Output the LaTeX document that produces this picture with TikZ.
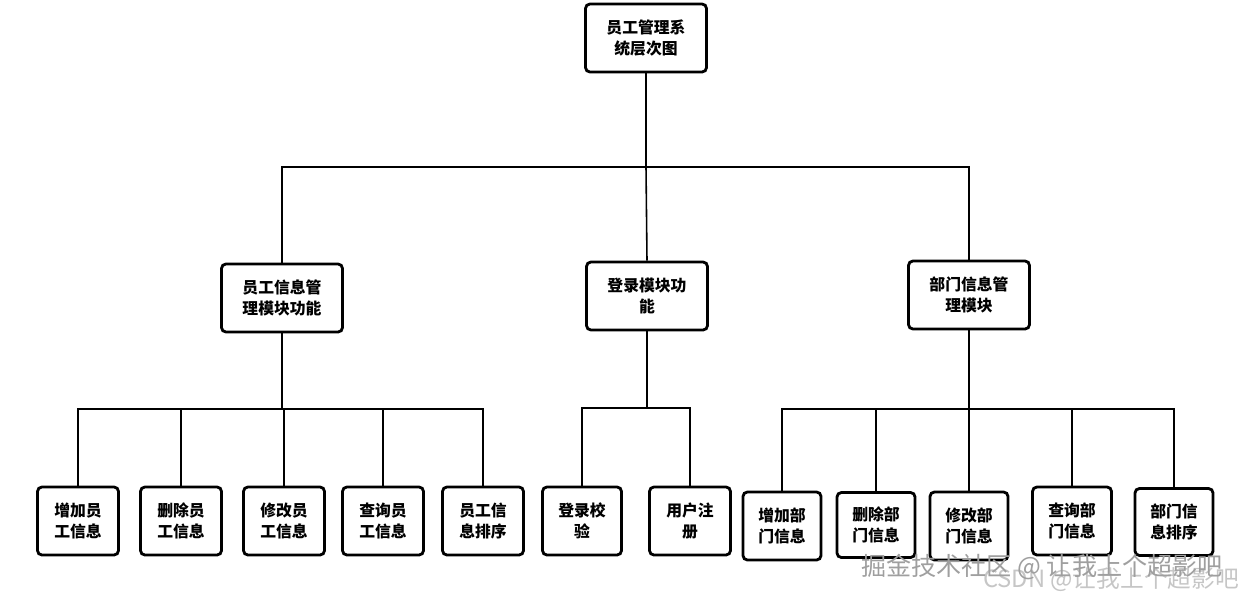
\documentclass[tikz,border=0pt]{standalone}
\usepackage{fontspec}
\newfontfamily\cjk{Noto Sans CJK SC}
\usetikzlibrary{positioning}
\tikzset{
    boxnode/.style = {draw=black, line width=1.6pt, rounded corners=2.5pt, align=center, inner sep=0pt, text centered, font=\cjk\bfseries\fontsize{9}{12}\selectfont},
    module_node/.style = {boxnode, minimum width=2.42cm, minimum height=1.36cm},
    leaf_node/.style = {boxnode, minimum width=1.62cm, minimum height=1.36cm},
    link/.style = {line width=0.9pt},
    mark_text/.style = {inner sep=0pt, font=\cjk}
}
\begin{document}
\begin{tikzpicture}[x=0.02cm, y=-0.02cm]
    \useasboundingbox (0,0) rectangle (1241,599);
    \node [module_node] (root) at (646,38) {员工管理系\\统层次图};
    \node [module_node] (emp) at (282,298) {员工信息管\\理模块功能};
    \node [module_node] (login) at (647,296) {登录模块功\\能};
    \node [module_node] (dept) at (969,295) {部门信息管\\理模块};
    \node [leaf_node] (e1) at (78,521) {增加员\\工信息};
    \node [leaf_node] (e2) at (181,521) {删除员\\工信息};
    \node [leaf_node] (e3) at (284,521) {修改员\\工信息};
    \node [leaf_node] (e4) at (383,521) {查询员\\工信息};
    \node [leaf_node] (e5) at (483,521) {员工信\\息排序};
    \node [leaf_node, minimum width=1.58cm] (l1) at (582,521) {登录校\\验};
    \node [leaf_node] (l2) at (690,521) {用户注\\册};
    \node [leaf_node, minimum width=1.56cm] (d1) at (782,526) {增加部\\门信息};
    \node [leaf_node, minimum width=1.56cm, minimum height=1.30cm] (d2) at (876,525) {删除部\\门信息};
    \node [leaf_node, minimum width=1.56cm] (d3) at (969,526) {修改部\\门信息};
    \node [leaf_node, minimum width=1.58cm] (d4) at (1072,521) {查询部\\门信息};
    \node [leaf_node, minimum width=1.56cm, minimum height=1.34cm] (d5) at (1174,522) {部门信\\息排序};
    \coordinate (j0) at (646,167);
    \coordinate (je) at (282,409);
    \coordinate (jl) at (647,408);
    \coordinate (jd) at (969,409);
    \draw [link] (root.south) -- (j0);
    \draw [link] (emp.north) |- (j0) -| (dept.north);
    \draw [link] (j0) -- (login.north);
    \draw [link] (emp.south) -- (je);
    \draw [link] (e1.north) |- (je) -| (e5.north);
    \foreach \n in {e2,e3,e4}
        \draw [link] (\n.north) -- (\n.north |- je);
    \draw [link] (login.south) -- (jl);
    \draw [link] (l1.north) |- (jl) -| (l2.north);
    \draw [link] (dept.south) -- (jd);
    \draw [link] (d1.north) |- (jd) -| (d5.north);
    \foreach \n in {d2,d3,d4}
        \draw [link] (\n.north) -- (\n.north |- jd);
    \node [mark_text, text=gray!45, font=\cjk\fontsize{13.5}{13.5}\selectfont] (mark2) at (1111,580) {CSDN @让我上个超影吧};
    \node [mark_text, text=gray!75, font=\cjk\fontsize{14.3}{14.3}\selectfont] (mark1) at (1042,567) {掘金技术社区 @ 让我上个超影吧};
\end{tikzpicture}
\end{document}
